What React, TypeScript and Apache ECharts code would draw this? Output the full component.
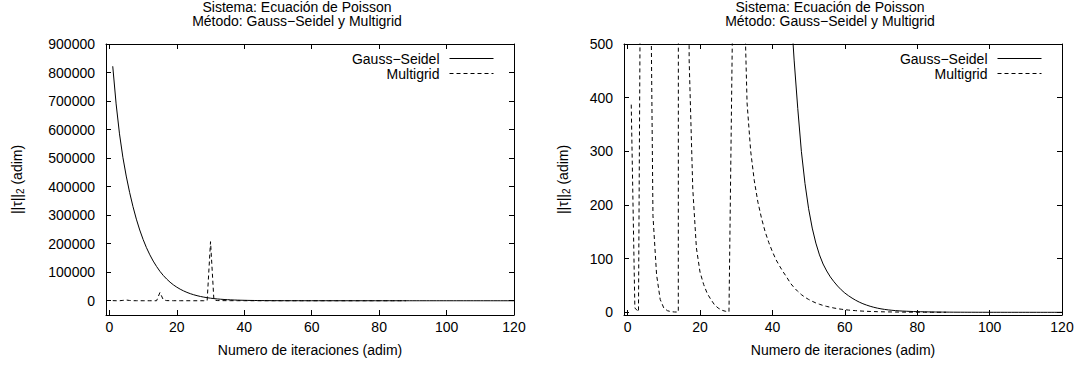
import React, { useEffect, useRef } from "react";
import * as echarts from "echarts";

// Residual norm per iteration, Gauss–Seidel (iterations 1..120)
const gsValues = [
  822000, 690000, 585000, 503000, 437000, 380000, 330000, 286000, 248000, 215000,
  186000, 161000, 139000, 120000, 103000, 88500, 76000, 65000, 55500, 47500,
  40500, 34500, 29300, 24800, 21000, 17800, 15000, 12650, 10650, 8950,
  7500, 6300, 5280, 4420, 3700, 3090, 2580, 2150, 1790, 1490,
  1240, 1030, 850, 700, 575, 470, 380, 300, 240, 193,
  157, 129, 107, 90, 77, 66, 57, 49, 42, 36,
  31, 26.5, 22.5, 19, 16, 13.5, 11.3, 9.4, 7.8, 6.5,
  5.4, 4.5, 3.8, 3.2, 2.7, 2.3, 2.0, 1.7, 1.45, 1.25,
  1.07, 0.92, 0.79, 0.68, 0.58, 0.5, 0.43, 0.37, 0.32, 0.27,
  0.23, 0.2, 0.17, 0.15, 0.13, 0.11, 0.095, 0.082, 0.07, 0.06,
  0.052, 0.045, 0.038, 0.033, 0.028, 0.024, 0.021, 0.018, 0.015, 0.013,
  0.011, 0.0095, 0.0082, 0.007, 0.006, 0.0052, 0.0045, 0.0038, 0.0033, 0.0028,
];

// Residual norm per iteration, Multigrid (iterations 1..88)
const mgValues = [
  387, 8, 1, 1200, 2500, 900, 180, 70, 24, 8,
  3, 1.2, 0.6, 0.5, 29000, 3000, 470, 230, 120, 75,
  52, 35, 24, 14, 8, 4, 2, 1, 550, 207000,
  2500, 650, 390, 300, 245, 205, 175, 150, 130, 113,
  98, 86, 75, 65, 54, 46, 39, 33, 28, 24,
  20.5, 17.5, 15, 12.8, 11, 9.4, 8, 6.8, 5.8, 4.9,
  4.2, 3.6, 3.1, 2.6, 2.2, 1.9, 1.6, 1.4, 1.2, 1.0,
  0.86, 0.74, 0.63, 0.54, 0.46, 0.4, 0.34, 0.29, 0.25, 0.21,
  0.18, 0.16, 0.14, 0.12, 0.1, 0.087, 0.075, 0.065,
];

const xTicks = [0, 20, 40, 60, 80, 100, 120];
const yTicksLeft = [0, 100000, 200000, 300000, 400000, 500000, 600000, 700000, 800000, 900000];
const yTicksRight = [0, 100, 200, 300, 400, 500];
const seriesNames = ["Gauss−Seidel", "Multigrid"];
const titleText = "Sistema: Ecuación de Poisson\nMétodo: Gauss−Seidel y Multigrid";
const xName = "Numero de iteraciones (adim)";
const yName = "||τ||{sub|2} (adim)";

const FONT = "'Liberation Sans', Arial, Helvetica, sans-serif";
const BLACK = "#000";

function toPairs(values: number[]) {
  return values.map((v, i) => [i + 1, v]);
}

export default function App() {
  const ref = useRef<HTMLDivElement>(null);

  useEffect(() => {
    if (!ref.current) return;
    const chart = echarts.init(ref.current, undefined, { renderer: "svg" });

    const grids = [
      { left: 106, top: 44, width: 408, height: 271 },
      { left: 624, top: 44, width: 438, height: 271 },
    ];

    const lineStyle = { color: BLACK, width: 1 };
    const textBase = { color: BLACK, fontSize: 14, fontFamily: FONT };

    const makeX = (gridIndex: number) => [
      {
        type: "value",
        gridIndex,
        position: "bottom",
        min: -1,
        max: 120,
        axisLine: { show: true, onZero: false, lineStyle },
        axisTick: { show: true, inside: true, length: 5, customValues: xTicks, lineStyle },
        axisLabel: {
          show: true,
          customValues: xTicks,
          formatter: (v: number) => String(v),
          margin: 5,
          ...textBase,
        },
        splitLine: { show: false },
        name: xName,
        nameLocation: "middle",
        nameGap: 28,
        nameTextStyle: { ...textBase },
      },
      {
        type: "value",
        gridIndex,
        position: "top",
        min: -1,
        max: 120,
        axisLine: { show: true, onZero: false, lineStyle },
        axisTick: { show: true, inside: true, length: 5, customValues: xTicks, lineStyle },
        axisLabel: { show: false },
        splitLine: { show: false },
      },
    ];

    const makeY = (gridIndex: number, min: number, max: number, ticks: number[], nameGap: number) => [
      {
        type: "value",
        gridIndex,
        position: "left",
        min,
        max,
        axisLine: { show: true, onZero: false, lineStyle },
        axisTick: { show: true, inside: true, length: 5, customValues: ticks, lineStyle },
        axisLabel: {
          show: true,
          customValues: ticks,
          formatter: (v: number) => String(v),
          margin: 11,
          ...textBase,
        },
        splitLine: { show: false },
        name: yName,
        nameLocation: "middle",
        nameRotate: 90,
        nameGap,
        nameTextStyle: {
          ...textBase,
          rich: {
            sub: { fontSize: 10, fontFamily: FONT, color: BLACK, padding: [7, 0, 0, 0] },
          },
        },
      },
      {
        type: "value",
        gridIndex,
        position: "right",
        min,
        max,
        axisLine: { show: true, onZero: false, lineStyle },
        axisTick: { show: true, inside: true, length: 5, customValues: ticks, lineStyle },
        axisLabel: { show: false },
        splitLine: { show: false },
      },
    ];

    const makeSeries = (xAxisIndex: number, yAxisIndex: number) => [
      {
        type: "line",
        name: seriesNames[0],
        xAxisIndex,
        yAxisIndex,
        data: toPairs(gsValues),
        symbol: "none",
        clip: true,
        lineStyle: { color: BLACK, width: 1, type: "solid" },
        itemStyle: { color: BLACK },
      },
      {
        type: "line",
        name: seriesNames[1],
        xAxisIndex,
        yAxisIndex,
        data: toPairs(mgValues),
        symbol: "none",
        clip: true,
        lineStyle: { color: BLACK, width: 1, type: [4, 3] },
        itemStyle: { color: BLACK },
      },
    ];

    const makeLegend = (right: number) => ({
      data: seriesNames,
      orient: "vertical",
      align: "right",
      right,
      top: 51,
      padding: 0,
      itemWidth: 44,
      itemHeight: 10,
      itemGap: 0,
      selectedMode: false,
      itemStyle: { opacity: 0, borderWidth: 0 },
      lineStyle: { width: 1, color: BLACK },
      textStyle: { ...textBase, lineHeight: 15, padding: [0, 5, 0, 0] },
    });

    const makeTitle = (left: number) => ({
      text: titleText,
      left,
      top: 0,
      textAlign: "center",
      padding: 0,
      textStyle: { ...textBase, fontWeight: "normal", lineHeight: 14 },
    });

    chart.setOption({
      animation: false,
      backgroundColor: "#fff",
      title: [makeTitle(297), makeTitle(830)],
      legend: [makeLegend(584), makeLegend(36)],
      grid: grids,
      xAxis: [...makeX(0), ...makeX(1)],
      yAxis: [
        ...makeY(0, -50000, 900000, yTicksLeft, 81),
        ...makeY(1, -5, 500, yTicksRight, 53),
      ],
      series: [...makeSeries(0, 0), ...makeSeries(2, 2)],
    });

    return () => chart.dispose();
  }, []);

  return (
    <div
      ref={ref}
      style={{ position: "absolute", left: 0, top: 0, width: 1078, height: 367, background: "#fff" }}
    />
  );
}
